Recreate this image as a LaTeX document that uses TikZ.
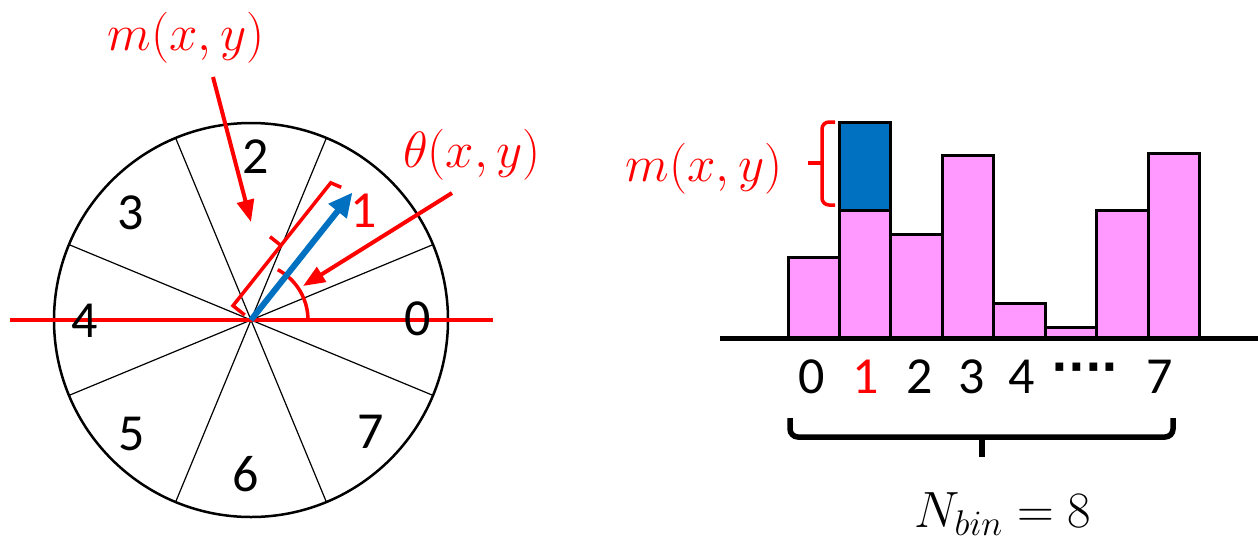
\RequirePackage{fix-cm}
\documentclass[tikz,border=0pt]{standalone}
\usepackage{fontspec}
\setmainfont{Carlito}
\newfontfamily\dotfont{DejaVu Sans}
\usetikzlibrary{arrows.meta,calc}
\definecolor{myred}{HTML}{FF0000}
\definecolor{myblue}{HTML}{0070C0}
\definecolor{mypink}{HTML}{FF99FF}
\begin{document}
\begin{tikzpicture}[x=1pt,y=-1pt,
  digit/.style={font=\fontsize{52}{60}\selectfont, inner sep=0pt},
  mathlbl/.style={text=myred, font=\fontsize{51}{60}\selectfont, inner sep=0pt},
  sectorline/.style={line width=1.2pt},
  redline/.style={myred, line width=3.5pt},
  redarrow/.style={myred, line width=4pt, -{Triangle[length=22pt,width=17pt]}},
  bar/.style={draw=black, line width=3pt, fill=mypink},
  blackbrace/.style={line width=5.5pt, rounded corners=8pt},
]
\useasboundingbox (0,0) rectangle (1258,542);

% ---------- left: orientation dial ----------
\node[circle, draw, line width=2.5pt, minimum size=394pt, inner sep=0pt] (dial) at (251,320) {};
\begin{scope}[shift={(251,320)}, yscale=-1]
  \coordinate (O) at (0,0);
  \foreach \a in {22.5,67.5,112.5,157.5}
    \draw[sectorline] (\a:197) -- (\a+180:197);
  \coordinate (hl) at (-241,0);
  \coordinate (hr) at (242,0);
  \draw[redline] (hl) -- (hr);
  \draw[redline] (57,0) arc[start angle=0, end angle=62, radius=57];
  \coordinate (k1) at ($(51.5:0)+(141.5:8)$);
  \coordinate (k2) at ($(51.5:0)+(141.5:23)$);
  \coordinate (k3) at ($(51.5:157)+(141.5:23)$);
  \coordinate (k4) at ($(51.5:160)+(141.5:12)$);
  \coordinate (k5) at ($(51.5:77)+(141.5:23)$);
  \coordinate (k6) at ($(51.5:77)+(141.5:37)$);
  \draw[redline, line join=miter] (k1) -- (k2) -- (k3) -- (k4);
  \draw[redline] (k5) -- (k6);
  \coordinate (btip) at (51.5:163);
  \draw[myblue, line width=6pt, -{Triangle[length=24pt,width=22pt]}] (O) -- (btip);
\end{scope}

\node[digit] (s0) at (418,319) {0};
\node[digit] (s2) at (256,157) {2};
\node[digit] (s3) at (131,213) {3};
\node[digit] (s4) at (85,321) {4};
\node[digit] (s5) at (132,434) {5};
\node[digit] (s6) at (246,474) {6};
\node[digit] (s7) at (371,432) {7};
\node[digit, text=myred] (one) at (364,211) {1};

\node[mathlbl] (mlab) at (186,38) {$m(x,y)$};
\coordinate (ms) at (213,77);
\coordinate (me) at (251,222);
\draw[redarrow] (ms) -- (me);

\node[mathlbl] (tlab) at (472,155) {$\theta(x,y)$};
\coordinate (ts) at (452,193);
\coordinate (te) at (303,286);
\draw[redarrow] (ts) -- (te);

% ---------- right: histogram ----------
\draw[bar] (788,338) rectangle (839,257);
\draw[bar] (839,338) rectangle (890,210);
\draw[draw=black, line width=3pt, fill=myblue] (839,210) rectangle (890,122);
\draw[bar] (890,338) rectangle (942,234);
\draw[bar] (942,338) rectangle (993,155);
\draw[bar] (993,338) rectangle (1045,303);
\draw[bar] (1045,338) rectangle (1096,327);
\draw[bar] (1096,338) rectangle (1148,210);
\draw[bar] (1148,338) rectangle (1199,153);
\coordinate (axl) at (720,338);
\coordinate (axr) at (1258,338);
\draw[line width=5pt] (axl) -- (axr);

\draw[redline, rounded corners=7pt] (835,122) -- (822,122) -- (822,205) -- (835,205);
\draw[redline] (822,163) -- (808,163);
\node[mathlbl] (hmlab) at (704,169) {$m(x,y)$};

\node[digit, anchor=base] (b0) at (812,393) {0};
\node[digit, anchor=base, text=myred] (b1) at (866,393) {1};
\node[digit, anchor=base] (b2) at (920,393) {2};
\node[digit, anchor=base] (b3) at (972,393) {3};
\node[digit, anchor=base] (b4) at (1022,393) {4};
\node[inner sep=0pt, font=\dotfont\bfseries\fontsize{44}{50}\selectfont] (bdots) at (1085,373) {····};
\node[digit, anchor=base] (b7) at (1160,393) {7};

\draw[blackbrace] (790,418) -- (790,437) -- (1173,437) -- (1173,418);
\draw[line width=6pt] (982,437) -- (982,457);

\node[inner sep=0pt, font=\fontsize{51}{60}\selectfont] (nbin) at (1003,514) {$N_{bin} = 8$};
\end{tikzpicture}
\end{document}
